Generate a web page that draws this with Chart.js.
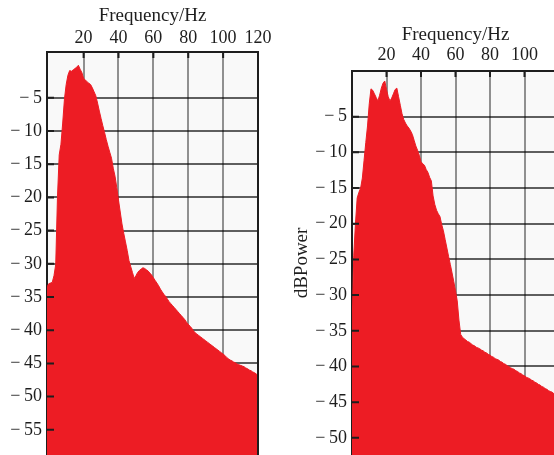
<!DOCTYPE html>
<html>
<head>
<meta charset="utf-8">
<script src="https://cdn.jsdelivr.net/npm/chart.js@4.4.1/dist/chart.umd.min.js"></script>
<style>
  html, body { margin: 0; padding: 0; background: #fff; }
  body { width: 554px; height: 455px; overflow: hidden; position: relative; }
  canvas { position: absolute; top: 0; }
  #leftChart { left: 0; }
  #rightChart { left: 285px; }
</style>
</head>
<body>
<canvas id="leftChart" width="285" height="455"></canvas>
<canvas id="rightChart" width="300" height="455"></canvas>
<script>
// frequency bins, Hz
const freqHz = [
  0, 1, 2, 3, 4, 5, 6, 7, 8, 9, 10, 11, 12, 13, 14, 15, 16, 17, 18, 19,
  20, 21, 22, 23, 24, 25, 26, 27, 28, 29, 30, 31, 32, 33, 34, 35, 36, 37, 38, 39,
  40, 41, 42, 43, 44, 45, 46, 47, 48, 49, 50, 51, 52, 53, 54, 55, 56, 57, 58, 59,
  60, 61, 62, 63, 64, 65, 66, 67, 68, 69, 70, 71, 72, 73, 74, 75, 76, 77, 78, 79,
  80, 81, 82, 83, 84, 85, 86, 87, 88, 89, 90, 91, 92, 93, 94, 95, 96, 97, 98, 99,
  100, 101, 102, 103, 104, 105, 106, 107, 108, 109, 110, 111, 112, 113, 114, 115, 116, 117, 118, 119,
  120
]
const leftFreq = [-1, ...freqHz]

// power spectra, dB
const leftPower = [
  -33.5,
  -33.0, -32.9, -32.8, -31.8, -30.1, -20.0, -13.6, -12.0, -8.8, -5.2,
  -3.0, -1.6, -0.9, -1.0, -0.8, -0.6, -0.4, -0.1, -0.7, -1.2,
  -2.1, -2.3, -2.6, -2.8, -3.0, -3.5, -4.1, -4.7, -5.8, -7.0,
  -8.1, -9.2, -10.2, -11.3, -12.3, -13.2, -14.1, -15.6, -16.8, -18.5,
  -20.4, -22.2, -24.0, -25.4, -26.7, -28.0, -29.5, -30.4, -31.3, -32.2,
  -31.8, -31.3, -31.0, -30.8, -30.6, -30.7, -30.9, -31.1, -31.4, -31.7,
  -32.1, -32.5, -32.9, -33.3, -33.8, -34.2, -34.6, -34.9, -35.3, -35.7,
  -36.0, -36.3, -36.6, -36.9, -37.2, -37.5, -37.8, -38.1, -38.4, -38.8,
  -39.1, -39.4, -39.7, -40.1, -40.4, -40.6, -40.8, -41.0, -41.2, -41.4,
  -41.6, -41.8, -42.0, -42.2, -42.4, -42.6, -42.8, -43.0, -43.2, -43.4,
  -43.6, -43.8, -44.1, -44.3, -44.5, -44.6, -44.8, -44.9, -45.1, -45.2,
  -45.3, -45.4, -45.5, -45.7, -45.8, -46.0, -46.1, -46.3, -46.4, -46.6,
  -46.8
]
const rightPower = [
  -35.0, -24.5, -20.0, -16.4, -15.6, -15.0, -13.6, -11.1, -8.6, -6.3,
  -3.2, -1.1, -1.3, -1.8, -2.3, -2.8, -2.0, -1.0, -0.3, 0.0,
  -1.2, -2.2, -2.8, -2.4, -1.8, -1.2, -1.0, -2.2, -3.4, -4.6,
  -5.4, -5.9, -6.3, -6.6, -7.0, -7.5, -8.3, -9.1, -9.7, -10.4,
  -11.3, -11.6, -11.8, -12.4, -12.8, -13.5, -14.0, -16.1, -17.3, -18.1,
  -18.6, -19.0, -20.1, -21.0, -22.2, -23.4, -24.6, -25.7, -26.9, -28.1,
  -29.4, -30.8, -33.5, -35.5, -35.9, -36.1, -36.3, -36.5, -36.6, -36.8,
  -37.0, -37.1, -37.3, -37.4, -37.5, -37.7, -37.8, -38.0, -38.1, -38.3,
  -38.4, -38.6, -38.7, -38.9, -39.0, -39.1, -39.3, -39.4, -39.6, -39.7,
  -39.9, -40.0, -40.2, -40.3, -40.4, -40.6, -40.7, -40.9, -41.0, -41.2,
  -41.3, -41.5, -41.6, -41.7, -41.9, -42.0, -42.2, -42.3, -42.5, -42.6,
  -42.8, -42.9, -43.1, -43.2, -43.4, -43.5, -43.6, -43.8, -43.9, -44.1,
  -44.2
]

// tick labels
const leftFreqTicks = [20, 40, 60, 80, 100, 120]
const rightFreqTicks = [20, 40, 60, 80, 100]
const leftDbTicks = [-5, -10, -15, -20, -25, -30, -35, -40, -45, -50, -55]
const rightDbTicks = [-5, -10, -15, -20, -25, -30, -35, -40, -45, -50]

const FILL = '#ed1c24'
const INK = '#1e1e1e'
const SERIF = "'Liberation Serif', 'Times New Roman', serif"

const fmtTick = (v) => v < 0 ? '\u2212\u2009' + Math.abs(v) : String(v)

// light plot background, inward tick marks and the outer frame
const framePlugin = {
  id: 'frame',
  beforeDraw (chart) {
    const { ctx, chartArea: a } = chart
    ctx.save()
    ctx.fillStyle = '#f9f9f9'
    ctx.fillRect(a.left, a.top, a.right - a.left, a.bottom - a.top)
    ctx.restore()
  },
  afterDraw (chart) {
    const { ctx, chartArea: a, scales } = chart
    ctx.save()
    ctx.strokeStyle = INK
    ctx.lineWidth = 2
    ctx.beginPath()
    scales.x.ticks.forEach(t => {
      const px = scales.x.getPixelForValue(t.value)
      ctx.moveTo(px, a.top)
      ctx.lineTo(px, a.top + 6)
    })
    scales.y.ticks.forEach(t => {
      const py = scales.y.getPixelForValue(t.value)
      ctx.moveTo(a.left, py)
      ctx.lineTo(a.left + 7, py)
    })
    ctx.moveTo(a.right, a.top)
    ctx.lineTo(a.right, a.bottom)
    ctx.stroke()
    ctx.restore()
  }
}

function makeSpectrum (canvasId, cfg) {
  const points = cfg.freq.map((f, i) => ({ x: f, y: cfg.power[i] }))
  return new Chart(document.getElementById(canvasId), {
    type: 'line',
    data: {
      datasets: [{
        data: points,
        borderColor: FILL,
        borderWidth: 1,
        backgroundColor: FILL,
        fill: 'start',
        pointRadius: 0,
        tension: 0
      }]
    },
    options: {
      responsive: false,
      animation: false,
      devicePixelRatio: 1,
      layout: { padding: { left: 0, top: 0, right: cfg.padRight, bottom: 0 } },
      plugins: { legend: { display: false }, tooltip: { enabled: false } },
      scales: {
        x: {
          type: 'linear',
          position: 'top',
          min: cfg.xMin,
          max: 120,
          z: 1,
          afterBuildTicks: s => { s.ticks = cfg.xTicks.map(v => ({ value: v })) },
          afterFit: s => { s.height = cfg.top; s.paddingLeft = 0; s.paddingRight = 0 },
          grid: { color: 'rgba(0,0,0,0.42)', lineWidth: 2, drawTicks: false },
          border: { display: true, color: INK, width: 2 },
          ticks: {
            color: INK,
            padding: cfg.xTickPad,
            maxRotation: 0,
            autoSkip: false,
            font: { family: SERIF, size: 18 },
            callback: fmtTick
          },
          title: {
            display: true,
            text: 'Frequency/Hz',
            color: INK,
            font: { family: SERIF, size: 19 },
            padding: { top: cfg.titlePad, bottom: 0 }
          }
        },
        y: {
          type: 'linear',
          min: cfg.yMin,
          max: cfg.yMax,
          z: 1,
          afterBuildTicks: s => { s.ticks = cfg.yTicks.map(v => ({ value: v })) },
          afterFit: s => { s.width = cfg.left; s.paddingTop = 0; s.paddingBottom = 0 },
          grid: { color: 'rgba(0,0,0,0.62)', lineWidth: 2, drawTicks: false },
          border: { display: true, color: INK, width: 2 },
          ticks: {
            color: INK,
            padding: 5,
            autoSkip: false,
            font: { family: SERIF, size: 18 },
            callback: fmtTick
          },
          title: {
            display: !!cfg.yTitle,
            text: cfg.yTitle || '',
            color: INK,
            font: { family: SERIF, size: 19 },
            padding: { top: 6, bottom: 0 }
          }
        }
      }
    },
    plugins: [framePlugin]
  })
}

makeSpectrum('leftChart', {
  freq: leftFreq,
  power: leftPower,
  xMin: -1,
  xTicks: leftFreqTicks,
  yTicks: leftDbTicks,
  yMin: -58.8,
  yMax: 1.9,
  left: 47,
  top: 52,
  padRight: 27,
  xTickPad: 3,
  titlePad: 5
})

makeSpectrum('rightChart', {
  freq: freqHz,
  power: rightPower,
  xMin: 0,
  xTicks: rightFreqTicks,
  yTicks: rightDbTicks,
  yMin: -52.4,
  yMax: 1.4,
  left: 67,
  top: 71,
  padRight: 26,
  xTickPad: 5,
  titlePad: 24,
  yTitle: 'dBPower'
})
</script>
</body>
</html>
